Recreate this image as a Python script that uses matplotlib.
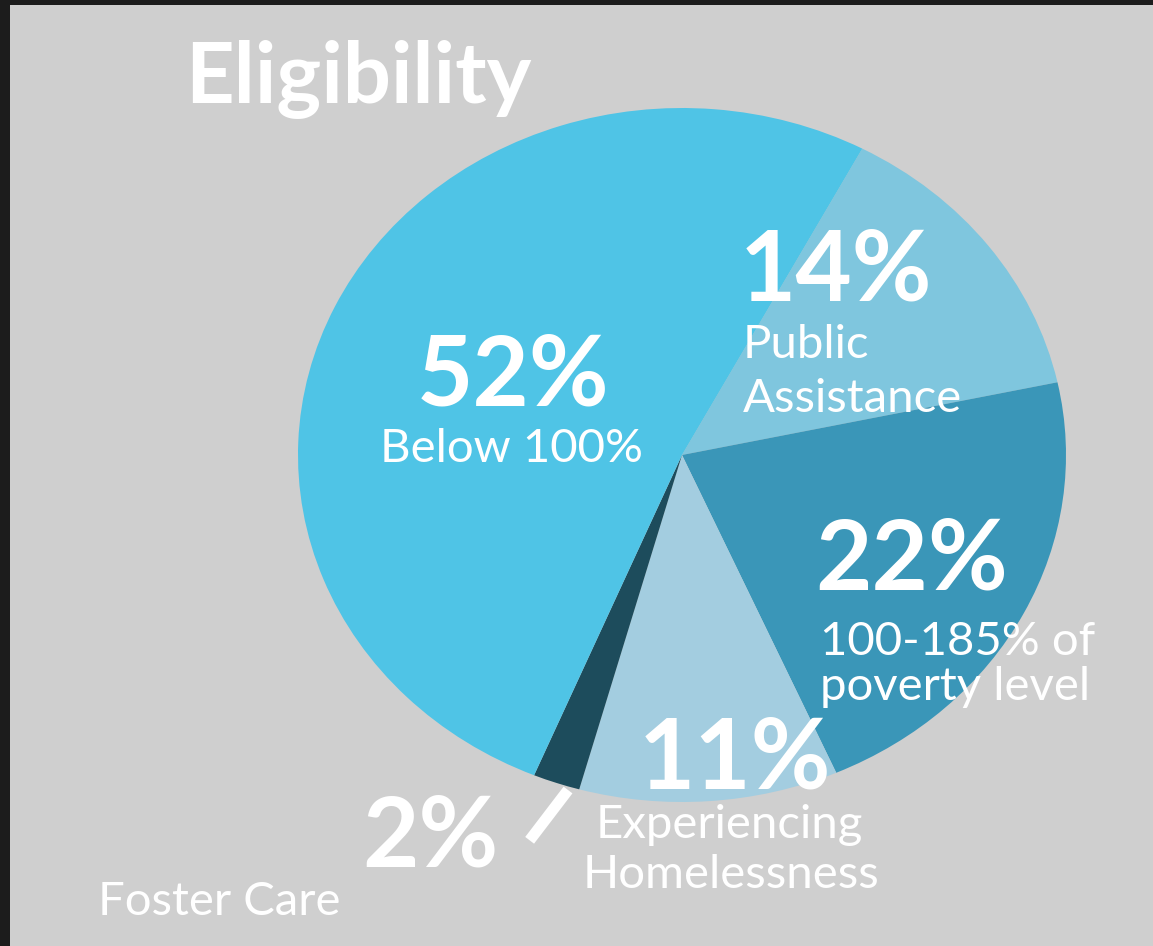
import numpy as np
import matplotlib
matplotlib.use("Agg")
import matplotlib.pyplot as plt
from matplotlib.patches import Rectangle

# Eligibility breakdown
categories = ["Public Assistance", "100-185% of poverty level",
              "Experiencing Homelessness", "Foster Care", "Below 100%"]
values = [14, 22, 11, 2, 52]
value_labels = ["14%", "22%", "11%", "2%", "52%"]
colors = ["#7fc6de", "#3a96b8", "#a3cde0", "#1d4c5c", "#4fc4e6"]

W, H = 1153, 946
fig = plt.figure(figsize=(W / 100, H / 100), dpi=100, facecolor="#1c1c1c")
plt.rcParams["font.family"] = ["Lato", "DejaVu Sans"]

# light panel behind the chart
fig.patches.append(Rectangle((10 / W, 0), 1 - 10 / W, 1 - 5 / H,
                             transform=fig.transFigure, facecolor="#cfcfcf",
                             edgecolor="none", zorder=-10))

cx, cy, rx, ry = 682, 455, 384, 347
ax = fig.add_axes([(cx - rx) / W, (H - (cy + ry)) / H, 2 * rx / W, 2 * ry / H])
ax.set_zorder(1)
wedges, _ = ax.pie(values, colors=colors, startangle=62, counterclock=False,
                   wedgeprops=dict(linewidth=0))
ax.set_xlim(-1, 1)
ax.set_ylim(-1, 1)
ax.set_aspect("auto")
ax.axis("off")
ax.patch.set_alpha(0)

# leader mark for the small Foster Care slice
w = wedges[3]
mid = np.deg2rad((w.theta1 + w.theta2) / 2 + 2)
x0, y0 = 1.01 * np.cos(mid), 1.01 * np.sin(mid)
ax.plot([x0, x0 - 0.10], [y0, y0 - 0.145],
        color="white", lw=8, solid_capstyle="butt", clip_on=False)


def put(x, y, s, size, bold=False, ha="left"):
    fig.text(x / W, 1 - y / H, s, fontsize=size, color="white",
             fontweight="bold" if bold else "normal", ha=ha, va="baseline",
             zorder=5)


BIG, SMALL = 70, 34

put(185, 102, "Eligibility", 61, bold=True)

put(513, 405, value_labels[4], BIG, bold=True, ha="center")
put(511, 462, categories[4], SMALL, ha="center")

put(740, 300, value_labels[0], BIG, bold=True)
put(743, 358, "Public", SMALL)
put(743, 412, "Assistance", SMALL)

put(815, 590, value_labels[1], BIG, bold=True)
put(820, 655, "100-185% of", SMALL)
put(820, 700, "poverty level", SMALL)

put(735, 788, value_labels[2], BIG, bold=True, ha="center")
put(729, 838, "Experiencing", SMALL, ha="center")
put(731, 888, "Homelessness", SMALL, ha="center")

put(362, 866, value_labels[3], BIG, bold=True)
put(98, 915, categories[3], SMALL)

fig.savefig("out.png", dpi=100, facecolor=fig.get_facecolor())
